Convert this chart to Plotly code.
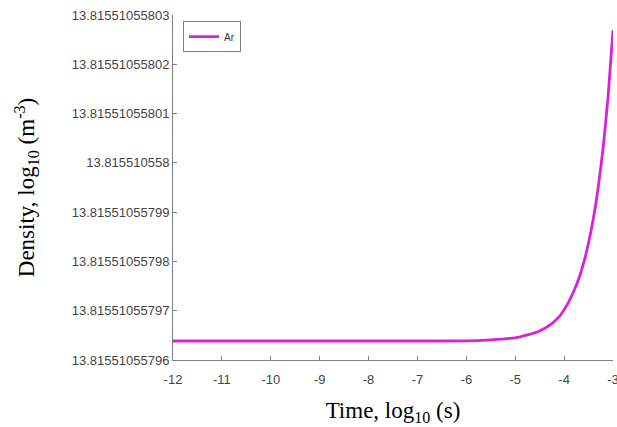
import plotly.graph_objects as go

# Data (log10 time in s, log10 density in m^-3)
time_log = [-12, -11, -10, -9, -8, -7, -6, -5.5, -5, -4.75, -4.5, -4.25,
            -4.1, -4.0, -3.9, -3.8, -3.7, -3.6, -3.5, -3.4, -3.3, -3.2,
            -3.1, -3.0]
density_log = [13.81551055796385, 13.81551055796385, 13.81551055796385,
               13.81551055796385, 13.81551055796385, 13.81551055796386,
               13.81551055796388, 13.8155105579641, 13.8155105579645,
               13.8155105579651, 13.8155105579659, 13.8155105579674,
               13.8155105579688, 13.8155105579702, 13.8155105579719,
               13.8155105579740, 13.8155105579765, 13.8155105579797,
               13.8155105579838, 13.8155105579888, 13.8155105579952,
               13.8155105580032, 13.8155105580135, 13.8155105580269]

x_ticks = [-12, -11, -10, -9, -8, -7, -6, -5, -4, -3]
x_ticktext = ["-12", "-11", "-10", "-9", "-8", "-7", "-6", "-5", "-4", "-3"]
y_ticks = [13.81551055796, 13.81551055797, 13.81551055798, 13.81551055799,
           13.815510558, 13.81551055801, 13.81551055802, 13.81551055803]
y_ticktext = ["13.81551055796", "13.81551055797", "13.81551055798",
              "13.81551055799", "13.815510558", "13.81551055801",
              "13.81551055802", "13.81551055803"]

fig = go.Figure()
fig.add_trace(go.Scatter(
    x=time_log, y=density_log, mode="lines", name="Ar",
    line=dict(color="#d822d8", width=2.8, shape="spline", smoothing=0.5),
))

serif = "Liberation Serif, Times New Roman, serif"
sans = "Liberation Sans, Arial, sans-serif"

fig.update_layout(
    width=617, height=427,
    margin=dict(l=173, r=4, t=15, b=67),
    paper_bgcolor="white", plot_bgcolor="white",
    showlegend=True,
    legend=dict(x=0.0227, y=0.982, xanchor="left", yanchor="top",
                bordercolor="#808080", borderwidth=1, bgcolor="white",
                font=dict(family=sans, size=10, color="#333333"),
                itemwidth=30, tracegroupgap=0),
    xaxis=dict(
        range=[-12, -3], tickvals=x_ticks, ticktext=x_ticktext,
        showgrid=False, zeroline=False, showline=True, linecolor="#808080",
        linewidth=1, ticks="inside", ticklen=4, tickcolor="#808080",
        tickfont=dict(family=sans, size=13, color="#444444"),
        ticklabeloverflow="allow", ticklabelstandoff=7,
        title=dict(text="Time, log<sub>10</sub> (s)",
                   font=dict(family=serif, size=23, color="black"), standoff=16),
        automargin=False,
    ),
    yaxis=dict(
        range=[13.81551055796, 13.81551055803], tickvals=y_ticks,
        ticktext=y_ticktext,
        showgrid=False, zeroline=False, showline=True, linecolor="#808080",
        linewidth=1, ticks="inside", ticklen=4, tickcolor="#808080",
        tickfont=dict(family=sans, size=13, color="#444444"),
        title=dict(text="Density, log<sub>10</sub> (m<sup>-3</sup>)",
                   font=dict(family=serif, size=23, color="black"), standoff=30),
        automargin=False,
    ),
)

fig.write_html("out.html")
